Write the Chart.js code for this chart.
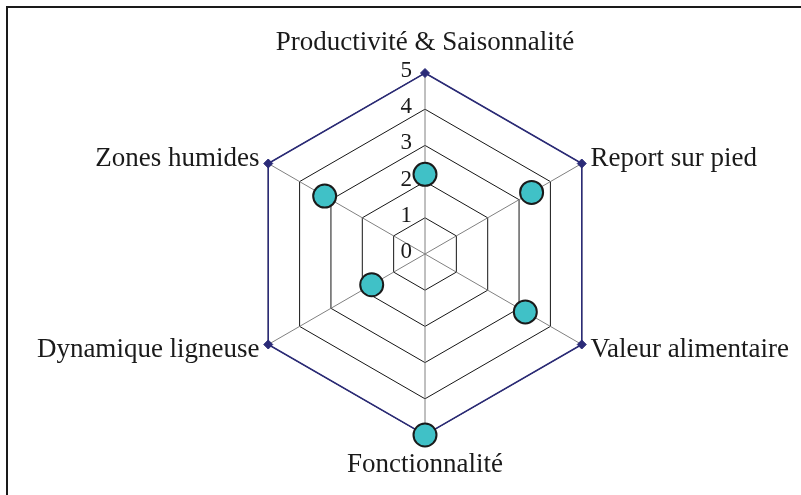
<!DOCTYPE html>
<html>
<head>
<meta charset="utf-8">
<script src="https://cdn.jsdelivr.net/npm/chart.js@4/dist/chart.umd.min.js"></script>
<style>
  html, body { margin: 0; padding: 0; background: #fff; overflow: hidden; }
  #wrap { position: relative; width: 801px; height: 495px; }
  #frame { position: absolute; left: 6px; top: 6px; width: 900px; height: 600px;
           border-left: 2px solid #1a1a1a; border-top: 2px solid #1a1a1a; }
  canvas { position: absolute; left: 0; top: 0; }
</style>
</head>
<body>
<div id="wrap">
  <div id="frame"></div>
  <canvas id="radar" width="801" height="495"></canvas>
</div>
<script>
// axes
const criteres = ["Productivité & Saisonnalité", "Report sur pied", "Valeur alimentaire",
                  "Fonctionnalité", "Dynamique ligneuse", "Zones humides"];
// notes relevées
const notes = [2.2, 3.4, 3.2, 5, 1.7, 3.2];
// contour maximal
const maximum = [5, 5, 5, 5, 5, 5];
const graduations = [0, 1, 2, 3, 4, 5];

const serif = "'Liberation Serif', 'DejaVu Serif', serif";

// graduations et libellés dessinés à partir de l'échelle
const libelles = {
  id: 'libelles',
  beforeDatasetsDraw(chart) {
    const s = chart.scales.r;
    const ctx = chart.ctx;
    ctx.save();
    ctx.fillStyle = '#1a1a1a';
    ctx.font = "23px " + serif;
    ctx.textAlign = 'right';
    ctx.textBaseline = 'middle';
    graduations.forEach(v => {
      const d = s.getDistanceFromCenterForValue(v);
      ctx.fillText(String(v), s.xCenter - 13, s.yCenter - d - 2);
    });
    ctx.font = "27px " + serif;
    criteres.forEach((txt, i) => {
      const ang = s.getIndexAngle(i) * 180 / Math.PI;
      const vertical = Math.abs(ang) < 1 || Math.abs(ang - 180) < 1;
      const p = s.getPointPosition(i, s.drawingArea + (vertical ? 30 : 10));
      ctx.textAlign = vertical ? 'center' : (ang < 180 ? 'left' : 'right');
      ctx.fillText(txt, p.x, p.y);
    });
    ctx.restore();
  }
};

new Chart(document.getElementById("radar"), {
  type: 'radar',
  data: {
    labels: criteres,
    datasets: [
      {
        label: "Notes",
        data: notes,
        showLine: false,
        fill: false,
        pointStyle: 'circle',
        pointRadius: 11.5,
        pointBackgroundColor: "#40c1c7",
        pointBorderColor: "#1a1a1a",
        pointBorderWidth: 2
      }, {
        label: "Maximum",
        data: maximum,
        fill: false,
        borderColor: "#2b2b78",
        borderWidth: 1.5,
        pointStyle: 'rectRot',
        pointRadius: 4.5,
        pointBackgroundColor: "#2b2b78",
        pointBorderColor: "#2b2b78",
        pointBorderWidth: 1
      }
    ]
  },
  options: {
    responsive: false,
    animation: false,
    layout: { padding: { left: 244, right: 195, top: 73, bottom: 60 } },
    plugins: {
      legend: { display: false },
      tooltip: { enabled: false }
    },
    scales: {
      r: {
        min: 0,
        max: 5,
        ticks: { display: false, stepSize: 1 },
        pointLabels: { display: false },
        grid: { color: '#151515', lineWidth: 1 },
        angleLines: { color: '#808080', lineWidth: 1 }
      }
    }
  },
  plugins: [libelles]
});
</script>
</body>
</html>
